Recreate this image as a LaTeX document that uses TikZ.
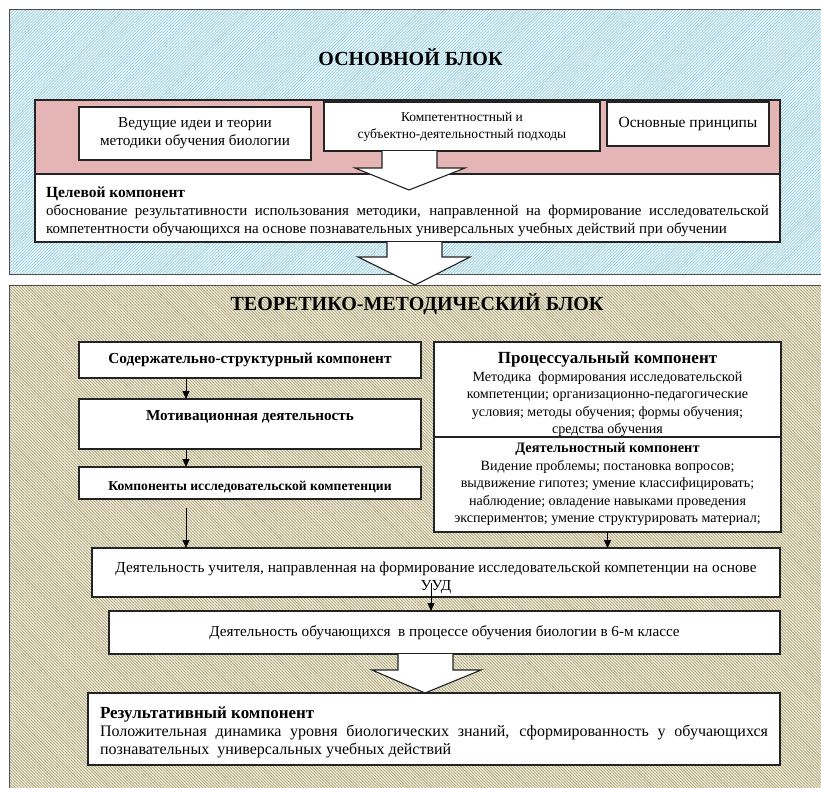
\documentclass[tikz,border=0pt]{standalone}
\usepackage{fontspec}
\setmainfont{Liberation Serif}
\usetikzlibrary{positioning, arrows.meta, calc, patterns.meta}
\definecolor{skyHatch}{RGB}{150, 208, 228}
\definecolor{sandHatch}{RGB}{178, 168, 125}
\definecolor{sandFill}{RGB}{246, 244, 232}
\definecolor{roseFill}{RGB}{229, 181, 181}
\definecolor{edgeColor}{RGB}{35, 35, 35}
\tikzset{
    block_sky/.style={
        draw=edgeColor!80,
        line width=0.8pt,
        preaction={fill=white},
        pattern={Lines[angle=45, distance=2.1pt, line width=0.9pt]},
        pattern color=skyHatch
    },
    block_sand/.style={
        draw=edgeColor!80,
        line width=0.8pt,
        preaction={fill=sandFill},
        pattern={Lines[angle=-45, distance=2.1pt, line width=0.9pt]},
        pattern color=sandHatch
    },
    block_title/.style={
        inner sep=0pt,
        font=\bfseries\fontsize{20}{24}\selectfont
    },
    main_box/.style={
        rectangle,
        draw=edgeColor,
        line width=1.1pt,
        fill=white,
        inner sep=0pt,
        outer sep=0pt,
        align=center
    },
    rose_box/.style={
        main_box,
        fill=roseFill
    },
    flow_edge/.style={
        -{Triangle[length=8pt, width=7pt]},
        line width=0.9pt,
        draw=black
    },
    big_arrow/.style={
        draw=edgeColor,
        line width=1.1pt,
        fill=white,
        line join=miter
    }
}

\begin{document}
\begin{tikzpicture}[x=1pt, y=-1pt]
    \useasboundingbox (0,0) rectangle (821,787);
    \clip (0,0) rectangle (821,787);
    \fill[white] (0,0) rectangle (821,787);

    % основной блок
    \draw[block_sky] (9,9) rectangle (840,274);
    \node[block_title, anchor=base] (title_main) at (410.5,65) {ОСНОВНОЙ БЛОК};

    \node[rose_box, minimum width=745pt, minimum height=74pt] (frame) at (407.5,137) {};
    \node[main_box, minimum width=745pt, minimum height=68pt, text width=723pt,
        inner xsep=11pt, align=justify, font=\fontsize{15}{18}\selectfont] (goal) at (407.5,208)
        {\rule{0pt}{19pt}{\bfseries\fontsize{15.5}{18}\selectfont Целевой компонент}\par\parfillskip=0pt
         обоснование результативности использования методики, направленной на формирование исследовательской\linebreak
         компетентности обучающихся на основе познавательных универсальных учебных действий при обучении};

    \node[main_box, minimum width=232pt, minimum height=53pt, font=\fontsize{15.2}{18}\selectfont] (ideas) at (195,133.5)
        {Ведущие идеи и теории\\методики обучения биологии};
    \node[main_box, minimum width=276pt, minimum height=49pt, font=\fontsize{13.5}{17}\selectfont] (app) at (462,126.5)
        {Компетентностный и\\субъектно-деятельностный подходы};
    \node[main_box, minimum width=162pt, minimum height=44pt, font=\fontsize{15.5}{18}\selectfont] (princ) at (688,124)
        {Основные принципы};

    \draw[big_arrow] ([xshift=-80pt]app.south) -- ++(0,17) -- ++(-27,0) -- ++(54,22) -- ++(56,-22) -- ++(-28,0) -- ++(0,-17);

    % теоретико-методический блок
    \draw[block_sand] (9,285) rectangle (840,800);
    \node[block_title, anchor=base] (title_theory) at (417,310) {ТЕОРЕТИКО-МЕТОДИЧЕСКИЙ БЛОК};

    \draw[big_arrow] ([xshift=-20.5pt]goal.south) -- ++(0,15) -- ++(-29,0) -- ++(57,28) -- ++(55,-28) -- ++(-28,0) -- ++(0,-15);

    \node[main_box, minimum width=342pt, minimum height=36pt, font=\bfseries\fontsize{15.3}{17}\selectfont] (content) at (250,360)
        {Содержательно-структурный компонент};
    \node[main_box, minimum width=342pt, minimum height=50pt, below=21pt of content, font=\bfseries\fontsize{15.2}{17}\selectfont] (motiv)
        {Мотивационная деятельность\\\mbox{}};
    \node[main_box, minimum width=342pt, minimum height=32pt, below=18pt of motiv, font=\bfseries\fontsize{13.6}{15}\selectfont] (comp)
        {\rule{0pt}{17pt}Компоненты исследовательской компетенции};

    \node[main_box, minimum width=347pt, minimum height=95pt] (proc) at (607.5,389.5) {};
    \node[inner sep=0pt, anchor=north, align=center, font=\fontsize{14.1}{17.5}\selectfont] (proc_text) at ([yshift=-10pt]proc.north)
        {{\bfseries\fontsize{17}{19}\selectfont Процессуальный компонент}\\
         Методика\ \ формирования исследовательской\\
         компетенции; организационно-педагогические\\
         условия; методы обучения; формы обучения;\\
         средства обучения};
    \node[main_box, minimum width=347pt, minimum height=95pt, below=0pt of proc, font=\fontsize{14.1}{17.5}\selectfont] (act)
        {{\bfseries\fontsize{14.4}{17}\selectfont Деятельностный компонент}\\
         Видение проблемы; постановка вопросов;\\
         выдвижение гипотез; умение классифицировать;\\
         наблюдение; овладение навыками проведения\\
         экспериментов; умение структурировать материал;};

    \node[main_box, minimum width=688pt, minimum height=49pt, font=\fontsize{15.3}{18}\selectfont] (teach) at (436,572.5)
        {\rule{0pt}{21pt}Деятельность учителя, направленная на формирование исследовательской компетенции на основе\\УУД};
    \node[main_box, minimum width=671pt, minimum height=43pt, font=\fontsize{15.2}{18}\selectfont] (learn) at (444.5,632.5)
        {Деятельность обучающихся\ \ в процессе обучения биологии в 6-м классе};

    \draw[big_arrow] ([xshift=-46.5pt]learn.south) -- ++(0,16) -- ++(-26,0) -- ++(53,23) -- ++(56,-23) -- ++(-28,0) -- ++(0,-16);

    \node[main_box, minimum width=692pt, minimum height=72pt, text width=668pt, inner xsep=12pt,
        align=justify, font=\fontsize{16}{18}\selectfont] (result) at (434,729)
        {\rule{0pt}{18pt}{\bfseries\fontsize{17}{18}\selectfont Результативный компонент}\par
         Положительная динамика уровня биологических знаний, сформированность у обучающихся\linebreak
         познавательных\ \ универсальных учебных действий};

    % связи
    \coordinate (ax) at (186,0);
    \coordinate (cx) at (431,0);
    \draw[flow_edge] (content.south -| ax) -- (motiv.north -| ax);
    \draw[flow_edge] (motiv.south -| ax) -- (comp.north -| ax);
    \draw[flow_edge] ($(comp.south -| ax)+(0,9)$) -- (teach.north -| ax);
    \draw[flow_edge] (act.south) -- (teach.north -| act.south);
    \draw[flow_edge] ($(teach.south -| cx)+(0,-14)$) -- (learn.north -| cx);
\end{tikzpicture}
\end{document}
